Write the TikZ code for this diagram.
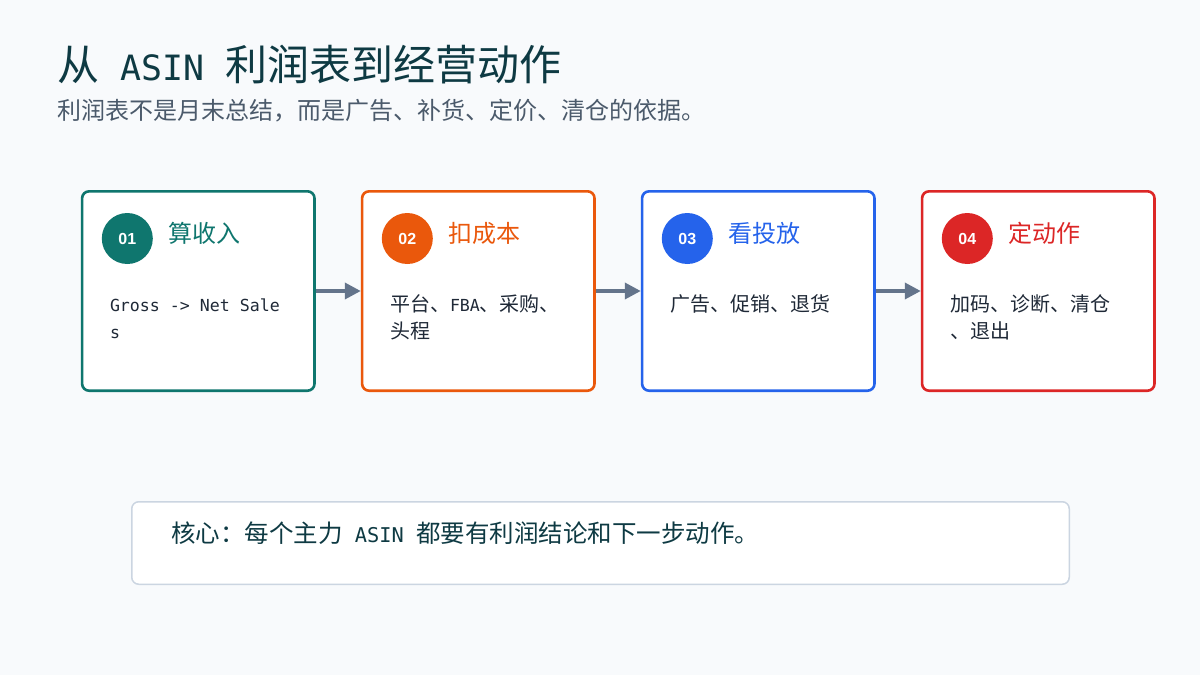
\documentclass[tikz,border=0pt]{standalone}
\usepackage{fontspec}
\setmainfont{Noto Sans CJK SC}
\newfontfamily\latfont{DejaVu Sans Mono}[Scale=0.83]
\newfontfamily\numfont{Liberation Sans}
\newcommand{\lat}[1]{{\latfont #1}}
\usepackage{tikz}
\usetikzlibrary{positioning,arrows.meta}
\definecolor{bg}{HTML}{F8FAFC}
\definecolor{ink}{HTML}{0E3A43}
\definecolor{sub}{HTML}{4B5A6B}
\definecolor{txt}{HTML}{1F2937}
\definecolor{lin}{HTML}{64748B}
\definecolor{edge}{HTML}{CBD5E1}
\definecolor{tea}{HTML}{0F766E}
\definecolor{ora}{HTML}{EA580C}
\definecolor{blu}{HTML}{2563EB}
\definecolor{rd}{HTML}{DC2626}

\begin{document}
\begin{tikzpicture}[x=1pt,y=-1pt,line cap=round]
	\tikzstyle{stage}=[draw,fill=white,line width=2.6pt,rounded corners=7pt,minimum width=232.4pt,minimum height=199.4pt,inner sep=0pt];
	\tikzstyle{num}=[circle,minimum size=51pt,inner sep=0pt,text=white,font=\numfont\fontsize{16}{16}\selectfont\bfseries];
	\tikzstyle{head}=[anchor=base west,inner sep=0pt,font=\fontsize{24}{24}\selectfont];
	\tikzstyle{body}=[anchor=base west,inner sep=0pt,align=left,text=txt,font=\fontsize{20}{27}\selectfont];
	\tikzstyle{flow}=[draw=lin,line width=3.6pt,line cap=butt,-{Triangle[length=16pt,width=16pt]}];
%<--------------------------------------------------------------------------->%

	\path[fill=bg,use as bounding box] (0,0) rectangle (1200,675);
	%% Title
	\node[anchor=base west,inner sep=0pt,text=ink,font=\fontsize{42}{42}\selectfont] (title) at (57,80) {从\lat{ ASIN }利润表到经营动作};
	\node[anchor=base west,inner sep=0pt,text=sub,font=\fontsize{24}{24}\selectfont] (subtitle) at (57,119) {利润表不是月末总结，而是广告、补货、定价、清仓的依据。};
	%% Stages
	\node[stage,draw=tea] (s1) at (198.3,291) {};
	\node[stage,draw=ora,right=45pt of s1] (s2) {};
	\node[stage,draw=blu,right=45pt of s2] (s3) {};
	\node[stage,draw=rd, right=45pt of s3] (s4) {};
	%% Numbers
	\node[num,fill=tea] (n1) at ([shift={(46.5,48.5)}]s1.north west) {01};
	\node[num,fill=ora] (n2) at ([shift={(46.5,48.5)}]s2.north west) {02};
	\node[num,fill=blu] (n3) at ([shift={(46.5,48.5)}]s3.north west) {03};
	\node[num,fill=rd]  (n4) at ([shift={(46.5,48.5)}]s4.north west) {04};
	%% Headings
	\node[head,text=tea] (h1) at ([shift={(87,52)}]s1.north west) {算收入};
	\node[head,text=ora] (h2) at ([shift={(87,52)}]s2.north west) {扣成本};
	\node[head,text=blu] (h3) at ([shift={(87,52)}]s3.north west) {看投放};
	\node[head,text=rd]  (h4) at ([shift={(87,52)}]s4.north west) {定动作};
	%% Bodies (base = last line)
	\node[body] (b1) at ([shift={(29,148)}]s1.north west) {\lat{Gross -> Net Sale}\\\lat{s}};
	\node[body] (b2) at ([shift={(29,148)}]s2.north west) {平台、\lat{FBA}、采购、\\头程};
	\node[body] (b3) at ([shift={(29,121)}]s3.north west) {广告、促销、退货};
	\node[body] (b4) at ([shift={(29,148)}]s4.north west) {加码、诊断、清仓\\、退出};
	%% Flow
	\draw[flow] (s1.east) -- (s2.west);
	\draw[flow] (s2.east) -- (s3.west);
	\draw[flow] (s3.east) -- (s4.west);
	%% Core
	\node[draw=edge,fill=white,line width=1.5pt,rounded corners=7pt,minimum width=937.5pt,minimum height=82.5pt,inner sep=0pt] (core) at (600.5,543) {};
	\node[anchor=base west,inner sep=0pt,text=ink,font=\fontsize{24.5}{24.5}\selectfont] (corelabel) at ([shift={(40,41)}]core.north west) {核心：每个主力\lat{ ASIN }都要有利润结论和下一步动作。};
\end{tikzpicture}
\end{document}
